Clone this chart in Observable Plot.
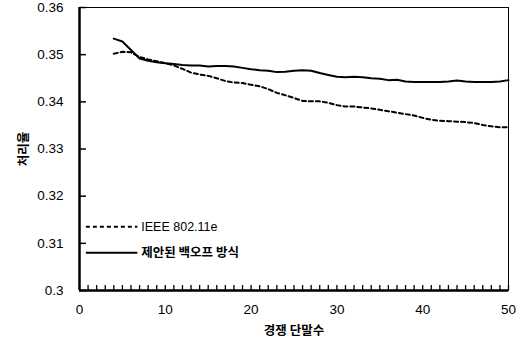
<!DOCTYPE html>
<html><head><meta charset="utf-8">
<script src="https://cdn.jsdelivr.net/npm/d3@7"></script>
<script src="https://cdn.jsdelivr.net/npm/@observablehq/plot@0.6"></script>
<style>body{margin:0;background:#fff}</style>
</head><body><div id="chart"></div>
<script>
const stations = [4,5,6,7,8,9,10,11,12,13,14,15,16,17,18,19,20,21,22,23,24,25,26,27,28,29,30,31,32,33,34,35,36,37,38,39,40,41,42,43,44,45,46,47,48,49,50];
const proposed = [0.3534,0.3528,0.3510,0.3492,0.3487,0.3484,0.3482,0.3480,0.3478,0.3477,0.3477,0.3475,0.3476,0.3476,0.3475,0.3472,0.3469,0.3467,0.3466,0.3463,0.3464,0.3466,0.3467,0.3466,0.3461,0.3457,0.3453,0.3452,0.3453,0.3452,0.3450,0.3449,0.3446,0.3447,0.3443,0.3442,0.3442,0.3442,0.3442,0.3443,0.3445,0.3443,0.3442,0.3442,0.3442,0.3443,0.3446];
const ieee = [0.3502,0.3506,0.3505,0.3495,0.3490,0.3486,0.3482,0.3477,0.3470,0.3462,0.3458,0.3455,0.3450,0.3444,0.3441,0.3440,0.3436,0.3433,0.3427,0.3419,0.3414,0.3408,0.3402,0.3401,0.3401,0.3398,0.3393,0.3390,0.3390,0.3388,0.3386,0.3383,0.3380,0.3377,0.3374,0.3371,0.3366,0.3362,0.3360,0.3359,0.3358,0.3357,0.3355,0.3351,0.3348,0.3346,0.3346];
const seriesNames = ["IEEE 802.11e", "제안된 백오프 방식"];
const xTicks = [0,10,20,30,40,50];
const xMinorTicks = d3.range(0, 51);
const yTicks = [0.3,0.31,0.32,0.33,0.34,0.35,0.36];
const xLabel = "경쟁 단말수";
const yLabel = "처리율";

const ieeeRows = stations.map((s,i)=>({x:s, y:ieee[i]}));
const propRows = stations.map((s,i)=>({x:s, y:proposed[i]}));
const legendY = [0.3135, 0.3080];
const font = "'Liberation Sans', Arial, 'Noto Sans CJK KR', sans-serif";
const kfont = "'Noto Sans CJK KR', sans-serif";

const chart = Plot.plot({
  width: 525, height: 349,
  marginLeft: 79, marginRight: 17, marginTop: 7, marginBottom: 59,
  style: {fontFamily: font, fontSize: "13px", color: "#000", background: "#fff"},
  x: {domain: [0,50]},
  y: {domain: [0.3,0.36]},
  marks: [
    Plot.frame({stroke: "#000", strokeWidth: 1}),
    Plot.ruleX([0], {strokeWidth: 2.5}),
    Plot.ruleY([0.3], {strokeWidth: 2.5}),
    Plot.ruleX(xMinorTicks, {x: d=>d, y1: 0.3, y2: 0.3, insetTop: -5, stroke: "#000", strokeWidth: 1.3}),
    Plot.link(yTicks, {x1: () => 0, x2: () => 0.75, y1: d=>d, y2: d=>d, stroke: "#000", strokeWidth: 1.5}),
    Plot.axisX(xTicks, {tickSize: 0, tickPadding: 14, fontSize: 13.5, label: null, tickFormat: d3.format("d")}),
    Plot.axisY(yTicks, {tickSize: 0, tickPadding: 16, fontSize: 13.5, label: null, tickFormat: d=>String(+d.toFixed(2))}),
    Plot.axisX([], {label: xLabel, labelAnchor: "center", labelArrow: "none", labelOffset: 44, fontFamily: kfont, fontWeight: "bold", fontSize: 12.5}),
    Plot.axisY([], {label: yLabel, labelAnchor: "center", labelArrow: "none", labelOffset: 60, fontFamily: kfont, fontWeight: "bold", fontSize: 12.5}),
    Plot.line(ieeeRows, {x:"x", y:"y", stroke:"#000", strokeWidth: 2, strokeDasharray: "4,3"}),
    Plot.line(propRows, {x:"x", y:"y", stroke:"#000", strokeWidth: 2}),
    Plot.ruleY([legendY[0]], {x1: 0.8, x2: 6.8, stroke: "#000", strokeWidth: 2, strokeDasharray: "4,3"}),
    Plot.ruleY([legendY[1]], {x1: 0.8, x2: 6.8, stroke: "#000", strokeWidth: 2}),
    Plot.text([seriesNames[0]], {y: legendY[0], x: 7.2, text: d=>d, textAnchor: "start", fontSize: 12.5}),
    Plot.text([seriesNames[1]], {y: legendY[1], x: 7.2, text: d=>d, textAnchor: "start", fontSize: 12.5, fontFamily: kfont, fontWeight: "bold"})
  ]
});
document.getElementById("chart").append(chart);
</script></body></html>
